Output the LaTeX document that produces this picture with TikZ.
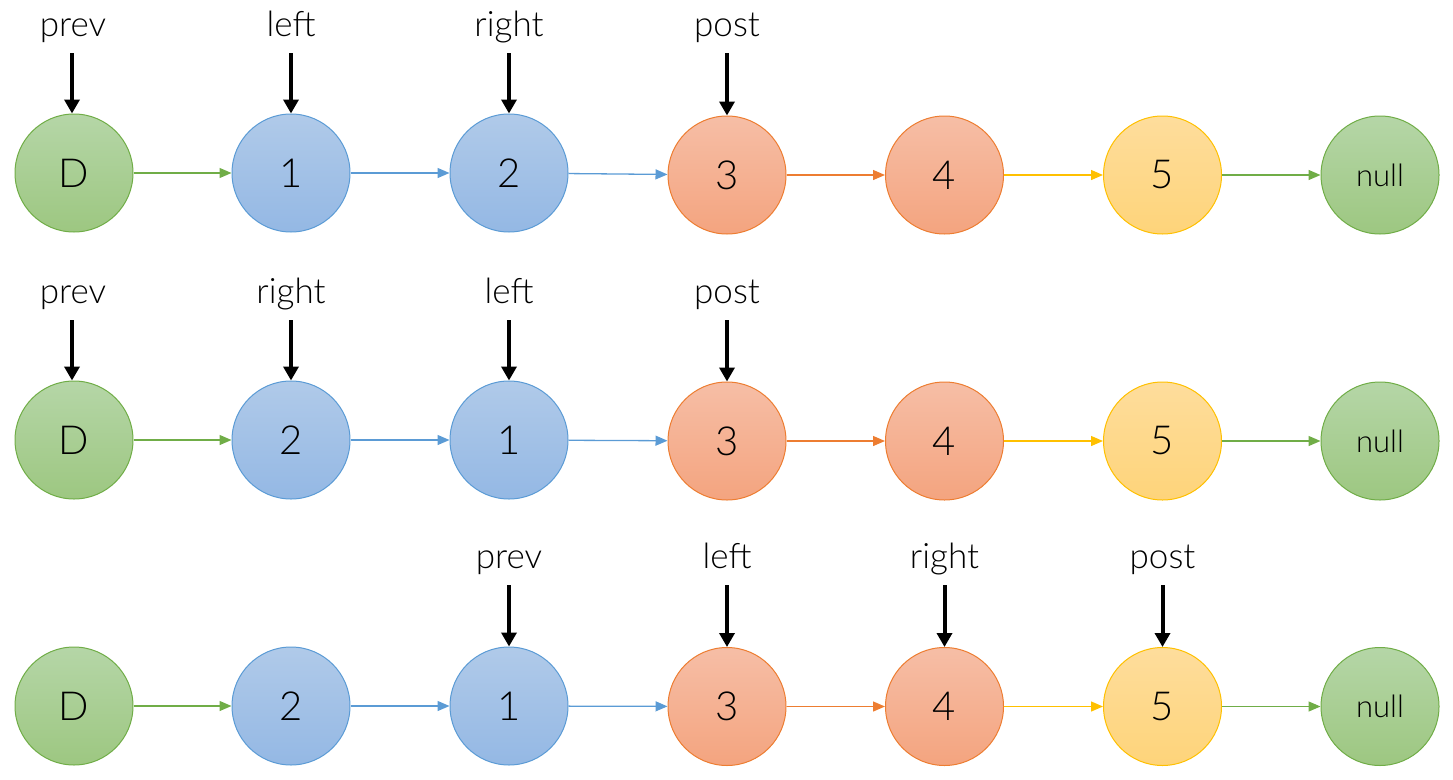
\documentclass[tikz,border=0pt]{standalone}
\usepackage{fontspec}
\setmainfont{Lato}[UprightFont={* Light}]
\usetikzlibrary{arrows.meta}
\definecolor{gB}{HTML}{70AD47}\definecolor{gT}{HTML}{B5D6A7}\definecolor{gD}{HTML}{9DC781}
\definecolor{bB}{HTML}{5B9BD5}\definecolor{bT}{HTML}{B0CAE9}\definecolor{bD}{HTML}{94B8E4}
\definecolor{oB}{HTML}{ED7D31}\definecolor{oT}{HTML}{F6BEA6}\definecolor{oD}{HTML}{F4A47F}
\definecolor{yB}{HTML}{FFC000}\definecolor{yT}{HTML}{FEDD9C}\definecolor{yD}{HTML}{FED47A}
\tikzset{
  ln/.style={circle, minimum size=118pt, inner sep=0pt, line width=1pt, font=\fontsize{40}{46}\selectfont},
  gn/.style={ln, draw=gB, top color=gT, bottom color=gD},
  bn/.style={ln, draw=bB, top color=bT, bottom color=bD},
  on/.style={ln, draw=oB, top color=oT, bottom color=oD},
  yn/.style={ln, draw=yB, top color=yT, bottom color=yD},
  nn/.style={gn, font=\fontsize{31}{36}\selectfont},
  lk/.style={line width=1.3pt, -{Triangle[length=12pt,width=10pt]}},
  ptr/.style={line width=4pt, -{Triangle[length=14pt,width=15pt]}},
  lbl/.style={font=\fontsize{35}{40}\selectfont, inner sep=0pt, anchor=base},
}
\begin{document}
\begin{tikzpicture}[x=1pt,y=-1pt]
\useasboundingbox (0,0) rectangle (1453,779);
% row 1
\node[gn] (aD) at (74,173) {D};
\node[bn] (a1) at (291,173) {1};
\node[bn] (a2) at (509,173) {2};
\node[on] (a3) at (727,175) {3};
\node[on] (a4) at (944.5,175) {4};
\node[yn] (a5) at (1162.5,175) {5};
\node[nn] (an) at (1380,175) {null};
\draw[lk,gB] (aD) -- (a1);
\draw[lk,bB] (a1) -- (a2);
\draw[lk,bB] (a2) -- (a3);
\draw[lk,oB] (a3) -- (a4);
\draw[lk,yB] (a4) -- (a5);
\draw[lk,gB] (a5) -- (an);
\node[lbl] (pa1) at (73,36) {prev};
\node[lbl] (pa2) at (291,36) {left};
\node[lbl] (pa3) at (509,36) {right};
\node[lbl] (pa4) at (727,36) {post};
\coordinate (sa1) at (72,53); \coordinate (sa2) at (291,53);
\coordinate (sa3) at (509,53); \coordinate (sa4) at (727,53);
\draw[ptr] (sa1) -- (aD.north -| sa1);
\draw[ptr] (sa2) -- (a1.north);
\draw[ptr] (sa3) -- (a2.north);
\draw[ptr] (sa4) -- (a3.north);
% row 2
\node[gn] (bD) at (74,440) {D};
\node[bn] (b2) at (291,440) {2};
\node[bn] (b1) at (509,440) {1};
\node[on] (b3) at (727,441) {3};
\node[on] (b4) at (944.5,441) {4};
\node[yn] (b5) at (1162.5,441) {5};
\node[nn] (bn) at (1380,441) {null};
\draw[lk,gB] (bD) -- (b2);
\draw[lk,bB] (b2) -- (b1);
\draw[lk,bB] (b1) -- (b3);
\draw[lk,oB] (b3) -- (b4);
\draw[lk,yB] (b4) -- (b5);
\draw[lk,gB] (b5) -- (bn);
\node[lbl] (pb1) at (73,303) {prev};
\node[lbl] (pb2) at (291,303) {right};
\node[lbl] (pb3) at (509,303) {left};
\node[lbl] (pb4) at (727,303) {post};
\coordinate (sb1) at (72,320); \coordinate (sb2) at (291,320);
\coordinate (sb3) at (509,320); \coordinate (sb4) at (727,320);
\draw[ptr] (sb1) -- (bD.north -| sb1);
\draw[ptr] (sb2) -- (b2.north);
\draw[ptr] (sb3) -- (b1.north);
\draw[ptr] (sb4) -- (b3.north);
% row 3
\node[gn] (cD) at (74,706) {D};
\node[bn] (c2) at (291,706) {2};
\node[bn] (c1) at (509,706) {1};
\node[on] (c3) at (727,706.5) {3};
\node[on] (c4) at (944.5,706.5) {4};
\node[yn] (c5) at (1162.5,706.5) {5};
\node[nn] (cn) at (1380,706.5) {null};
\draw[lk,gB] (cD) -- (c2);
\draw[lk,bB] (c2) -- (c1);
\draw[lk,bB] (c1) -- (c3);
\draw[lk,oB] (c3) -- (c4);
\draw[lk,yB] (c4) -- (c5);
\draw[lk,gB] (c5) -- (cn);
\node[lbl] (pc1) at (509,568) {prev};
\node[lbl] (pc2) at (727,568) {left};
\node[lbl] (pc3) at (944.5,568) {right};
\node[lbl] (pc4) at (1162.5,568) {post};
\coordinate (sc1) at (509,585); \coordinate (sc2) at (727,585);
\coordinate (sc3) at (944.5,585); \coordinate (sc4) at (1162.5,585);
\draw[ptr] (sc1) -- (c1.north);
\draw[ptr] (sc2) -- (c3.north);
\draw[ptr] (sc3) -- (c4.north);
\draw[ptr] (sc4) -- (c5.north);
\end{tikzpicture}
\end{document}
